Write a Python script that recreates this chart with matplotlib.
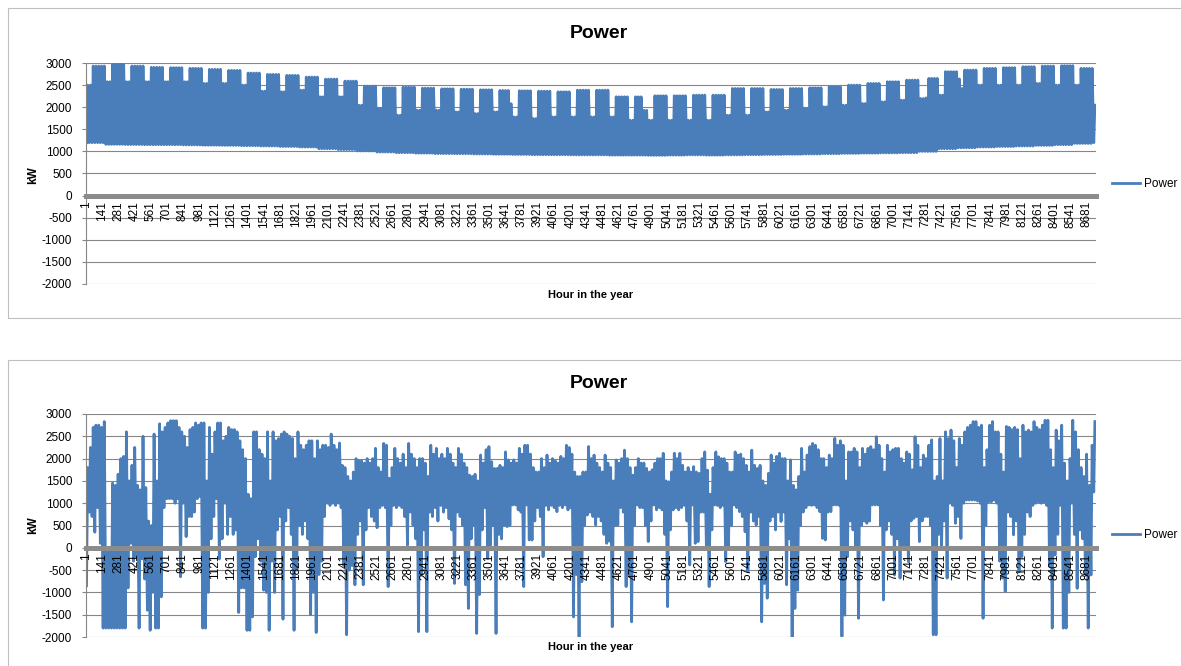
import numpy as np
import matplotlib
matplotlib.use("Agg")
import matplotlib.pyplot as plt
from matplotlib.patches import Rectangle

plt.rcParams['font.family'] = ['Liberation Sans', 'DejaVu Sans']

# ---- upper chart (load), read per week off the picture ----
# weekday peak per week, week 0 starts on day 2
top_weekday_peak = [2932, 2977, 2932, 2902, 2894, 2879, 2856, 2833, 2773, 2742,
                    2720, 2682, 2636, 2591, 2477, 2439, 2455, 2432, 2417, 2409,
                    2394, 2379, 2371, 2364, 2348, 2386, 2386, 2235, 2235, 2258,
                    2258, 2273, 2273, 2424, 2424, 2402, 2424, 2439, 2462, 2500,
                    2538, 2576, 2614, 2652, 2803, 2841, 2879, 2894, 2917, 2932,
                    2940, 2879]
# weekend peak, weekend j = days 7j and 7j+1
top_weekend_peak = [2500, 2576, 2576, 2576, 2576, 2576, 2538, 2538, 2500, 2364,
                    2348, 2386, 2235, 2235, 2045, 1970, 1818, 1932, 1932, 1894,
                    1856, 1894, 1780, 1742, 1780, 1780, 1780, 1780, 1705, 1705,
                    1705, 1705, 1705, 1818, 1818, 1894, 1932, 1970, 2008, 2045,
                    2083, 2121, 2159, 2197, 2273, 2424, 2500, 2500, 2500, 2538,
                    2500, 2500, 2045]
# night-time minimum, per 7-day block
top_low = [1197, 1160, 1155, 1151, 1151, 1145, 1140, 1136, 1128, 1121,
           1110, 1098, 1060, 1040, 1010, 985, 970, 960, 950, 947,
           940, 935, 930, 924, 924, 920, 920, 915, 915, 910,
           915, 920, 915, 920, 925, 930, 935, 940, 947, 955,
           960, 965, 970, 1000, 1060, 1080, 1098, 1110, 1121, 1136,
           1151, 1180, 1197]
# days that break the weekly pattern (holidays)
top_day_peak_override = {153: 2080, 201: 1930, 202: 1930, 303: 2210, 315: 2640}

# ---- lower chart (net power), daily max / min ----
bottom_hi = [1800, 2250, 2700, 2750, 2750, 2700, 2830, -100, 0, 1450,
             1400, 1650, 2000, 2050, 2600, 1500, 1850, 2250, 1400, 1300,
             2500, 1350, 600, 500, 2550, 1500, 2780, 2600, 2700, 2800,
             2850, 2850, 2850, 2700, 2600, 2500, 2250, 2650, 2700, 2800,
             2750, 2800, 2800, 1500, 2700, 2100, 2600, 2800, 2800, 2400,
             2500, 2700, 2650, 2650, 2600, 2400, 2200, 2000, 1200, 1100,
             2600, 2600, 2200, 2100, 2000, 2600, 1500, 2600, 2400, 2450,
             2550, 2600, 2550, 2500, 2450, 2000, 2600, 2300, 2200, 2300,
             2400, 2400, 2000, 2400, 2200, 2300, 2300, 2250, 2550, 2300,
             2200, 2350, 1850, 1800, 1600, 1500, 1700, 2000, 1950, 1950,
             1900, 2000, 1900, 2000, 2230, 1800, 1700, 2340, 2300, 1560,
             1800, 2230, 2000, 1900, 2100, 1800, 2340, 2100, 2000, 1800,
             2000, 2000, 1900, 1600, 2300, 2100, 2230, 2000, 2100, 2000,
             2230, 2100, 1900, 1800, 2230, 2100, 1900, 1800, 1630, 1600,
             1650, 1500, 2080, 1900, 2200, 2270, 1930, 1780, 1780, 1850,
             1800, 2150, 1970, 1900, 1970, 1900, 2230, 2100, 2300, 2300,
             2100, 1800, 1700, 1700, 2000, 1800, 2080, 1900, 2000, 1950,
             1900, 2050, 2000, 2300, 2250, 2100, 1700, 1600, 1600, 1700,
             1700, 2270, 2000, 2080, 1900, 1800, 1700, 2080, 1900, 1800,
             1500, 1970, 1900, 2000, 2190, 2000, 1800, 1630, 1800, 2000,
             1900, 1900, 1780, 1700, 1750, 1900, 2000, 2000, 2120, 1500,
             1480, 1700, 2120, 2000, 2120, 1850, 1700, 1800, 1700, 1820,
             1700, 1670, 2000, 2150, 1740, 1200, 1800, 2150, 2040, 2000,
             2000, 1900, 1700, 1700, 2150, 2080, 2100, 2000, 1850, 1700,
             2190, 1850, 1780, 1850, 1500, 1400, 1670, 2080, 1900, 2050,
             2120, 2000, 2000, 1500, 1970, 1400, 1300, 1600, 2230, 1700,
             2080, 2270, 2340, 2300, 2200, 2000, 2000, 1800, 2080, 2000,
             2455, 2300, 2400, 2300, 1500, 2150, 2150, 2230, 2150, 1800,
             2230, 2100, 2230, 2270, 2200, 2490, 2300, 2000, 1700, 2300,
             2150, 2200, 2230, 2230, 2000, 1900, 2150, 2100, 1750, 2490,
             2300, 1800, 2080, 2000, 2300, 2420, 1500, 1600, 2450, 1500,
             2600, 2450, 2640, 2400, 1800, 2450, 2300, 2600, 2700, 2750,
             2830, 2830, 2700, 2750, 1800, 2200, 2750, 2830, 2600, 2600,
             2100, 1700, 2720, 2700, 2650, 2700, 2650, 2000, 2750, 2600,
             2640, 2600, 2830, 2700, 2650, 2750, 2860, 2860, 2200, 1800,
             2640, 2400, 2750, 1900, 1500, 2000, 2860, 2600, 2200, 1800,
             1600, 2100, 1400, 2300, 2830]
bottom_lo = [-850, 800, 700, 350, 900, 100, -1800, -1800, -1800, -1800,
             -1800, -1800, -1800, -1800, -1800, -900, 100, -300, -200, -1800,
             -250, -700, -1400, -1850, -1000, -1800, -1800, -1100, 900, 1100,
             1100, 1100, 1000, 1100, -650, 1000, 250, 700, 700, 800,
             1100, 1150, -1800, -1800, -1000, 200, 700, 1100, -250, 200,
             1000, 300, 700, 300, 400, -1450, -900, -900, -1850, -1850,
             -1550, -200, 200, -300, -950, -1000, -1850, -300, -1000, 400,
             700, -1600, 600, 900, 300, -1850, -500, 500, 300, 600,
             200, -1500, -1000, -1900, -600, -300, 700, 1000, 950, 1000,
             950, 1000, 900, -400, -1950, -500, -400, -830, 300, 600,
             -830, 400, 900, 700, 600, 450, 900, 950, 900, -870,
             500, 950, 900, 950, 900, 700, 60, 800, 500, 200,
             -1880, -600, 400, -1880, 800, 700, 900, 600, 950, 800,
             900, 650, 400, -800, 800, 700, 500, -830, -1360, 200,
             500, -1920, -1050, 400, 900, -240, 60, 500, -1920, 300,
             200, 510, 475, 500, 960, 960, 850, 800, -870, 960,
             175, 175, 600, 900, 700, -200, 950, 850, 950, 900,
             810, 950, 900, 960, 850, 900, -1550, -600, -2015, -760,
             500, 735, 800, 700, 510, 700, 600, 300, 100, 150,
             -1770, 500, 510, 900, 800, -870, -600, -1660, 500, 960,
             900, 900, 500, 140, 600, 960, 850, 900, 850, 300,
             -1320, 400, 850, 900, 850, 900, 950, 600, -385, 960,
             100, 140, 800, 800, 60, -870, 400, 960, 950, 900,
             950, -310, 0, 500, 960, 900, 810, 700, 360, -535,
             800, 600, 510, 700, -1660, -800, -1130, 600, 700, 400,
             800, 590, 800, -830, 200, -2030, -1360, -950, 500, 800,
             900, 960, 950, 960, 900, 810, 210, 175, 800, 810,
             960, 960, 950, -1990, -1510, -200, 600, 400, -10, -1580,
             500, 600, 550, 600, 960, 960, 960, 500, -1170, 400,
             600, 300, -610, 200, -680, 50, 60, -310, 600, 660,
             700, 140, 600, 700, 700, 500, -1950, -1950, 300, 25,
             600, -680, 1000, 950, 550, 700, 210, 1000, 1070, 1070,
             1070, 1070, 1050, 1000, -1580, 500, 1030, 1030, 1070, 1000,
             -300, -680, -980, 800, 700, 290, 600, -540, -200, 300,
             800, 700, 950, 1000, 1030, 1000, 1030, 950, -400, -1800,
             -160, 300, 950, -1800, -1800, -1000, 1000, 300, -910, 400,
             200, -600, -1800, -610, 1250]

x_tick_labels = [str(1 + 140 * k) for k in range(63)]
y_ticks = [-2000, -1500, -1000, -500, 0, 500, 1000, 1500, 2000, 2500, 3000]

BLUE = '#4A7EBB'
GRID = '#868686'


def daily_series(lo, hi):
    # night minimum then daytime maximum for every day of the year
    hours, vals = [], []
    for d in range(len(lo)):
        hours += [d * 24 + 4.5, d * 24 + 14.5]
        vals += [lo[d], hi[d]]
    return np.array(hours), np.array(vals)


top_hi = []
for d in range(365):
    if d in top_day_peak_override:
        top_hi.append(top_day_peak_override[d])
    elif d % 7 < 2:
        top_hi.append(top_weekend_peak[d // 7])
    else:
        top_hi.append(top_weekday_peak[(d - 2) // 7])
top_lo_daily = [top_low[d // 7] for d in range(365)]


def panel(ax, x, y, legend_y):
    ax.plot(x, y, color=BLUE, lw=2.0, label='Power')
    for s in ['top', 'right']:
        ax.spines[s].set_visible(False)
    # category axis crosses at 0, as in the spreadsheet chart
    ax.spines['bottom'].set_position(('data', 0))
    ax.spines['bottom'].set_color('#8C8C8C')
    ax.spines['bottom'].set_linewidth(3.6)
    ax.spines['left'].set_color(GRID)
    ax.spines['left'].set_linewidth(0.8)
    ax.set_xlim(0, 8760)
    ax.set_ylim(-2000, 3000)
    ax.set_yticks(y_ticks)
    ax.set_yticklabels([str(v) for v in y_ticks])
    ax.set_xticks([140 * k + 0.5 for k in range(63)])
    ax.set_xticklabels(x_tick_labels)
    ax.set_axisbelow(True)
    ax.yaxis.grid(True, color=GRID, lw=0.8)
    ax.xaxis.set_zorder(3)
    ax.tick_params(axis='x', length=0, pad=4, labelsize=8.5, labelrotation=90)
    ax.tick_params(axis='y', length=3, color=GRID, width=0.8, labelsize=8.5, pad=7)
    ax.legend(loc='center left', bbox_to_anchor=(1.016, legend_y), frameon=False,
              fontsize=8.5, handlelength=2.4, handletextpad=0.3,
              borderpad=0, borderaxespad=0)


fig = plt.figure(figsize=(11.81, 6.66), dpi=100)

# chart frames
fig.add_artist(Rectangle((8 / 1181, 1 - 318 / 666), 1.0, 310 / 666,
                         transform=fig.transFigure, fill=False, ec='#BFBFBF', lw=0.8))
fig.add_artist(Rectangle((8 / 1181, -0.05), 1.0, 1 - 360 / 666 + 0.05,
                         transform=fig.transFigure, fill=False, ec='#BFBFBF', lw=0.8))

ax1 = fig.add_axes([86 / 1181, 1 - 284 / 666, 1010 / 1181, 221 / 666])
x1, y1 = daily_series(top_lo_daily, top_hi)
panel(ax1, x1, y1, 0.4525)

ax2 = fig.add_axes([86 / 1181, 1 - 637 / 666, 1010 / 1181, 223 / 666])
x2, y2 = daily_series(bottom_lo, bottom_hi)
panel(ax2, x2, y2, 0.457)

for ytitle, ykw, yx in [(33, 175, 295), (384, 525, 647)]:
    fig.text(599 / 1181, 1 - ytitle / 666, 'Power', ha='center', va='center',
             fontsize=14, fontweight='bold')
    fig.text(33 / 1181, 1 - ykw / 666, 'kW', ha='center', va='center',
             rotation=90, fontsize=8.5, fontweight='bold')
    fig.text(591 / 1181, 1 - yx / 666, 'Hour in the year', ha='center', va='center',
             fontsize=8, fontweight='bold')

fig.savefig('out.png', dpi=100)
